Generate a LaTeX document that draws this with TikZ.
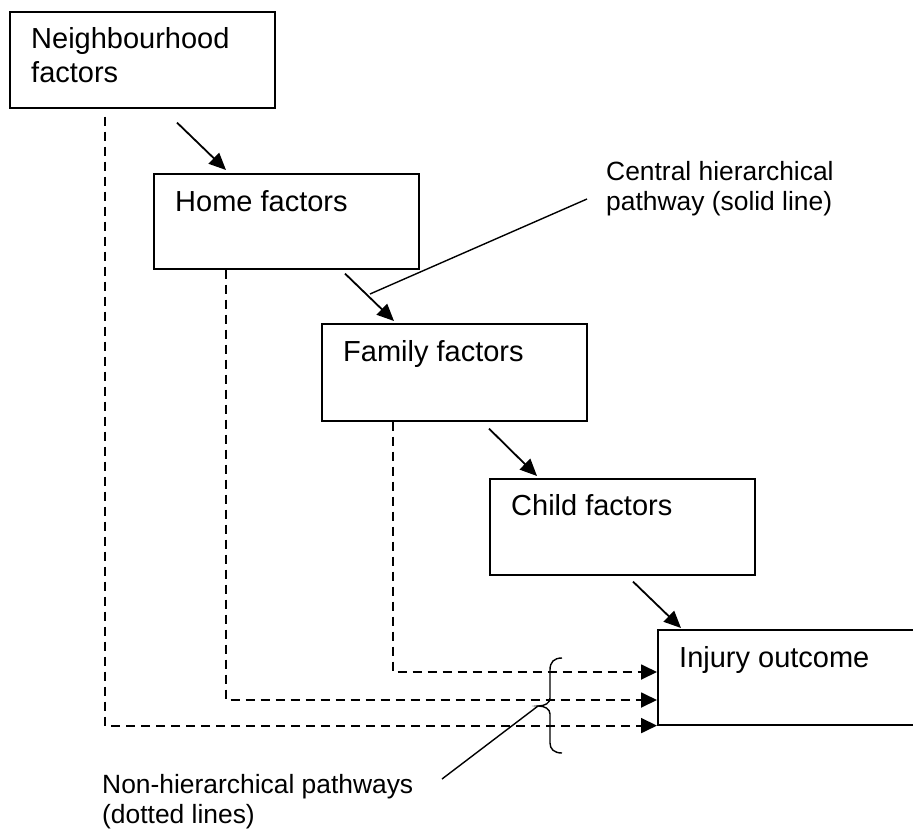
\documentclass[tikz,border=0pt]{standalone}
\usepackage{fontspec}
\setmainfont{Liberation Sans}
\usetikzlibrary{arrows.meta,calc}
\begin{document}
\begin{tikzpicture}[x=1pt,y=-1pt,
  box/.style={draw, line width=1.6pt, minimum width=265pt, anchor=north west, inner sep=0pt},
  boxtext/.style={anchor=base west, inner sep=0pt, align=left, font=\fontsize{29}{34}\selectfont},
  lbl/.style={anchor=base west, inner sep=0pt, align=left, font=\fontsize{26.4}{29.5}\selectfont},
  flow/.style={line width=1.8pt, -{Triangle[length=17pt,width=15pt]}},
  nonh/.style={line width=1.8pt, dash pattern=on 9pt off 6pt, -{Triangle[length=16pt,width=15pt]}},
  callout/.style={line width=1.4pt}]
\useasboundingbox (0,0) rectangle (913,830);
\clip (0,0) rectangle (913,830);

% boxes
\node[box, minimum height=96pt] (nb) at (9,11) {};
\node[box, minimum height=95pt] (home) at (153,173) {};
\node[box, minimum height=97pt] (family) at (321,323) {};
\node[box, minimum height=96pt] (child) at (489,478) {};
\node[box, minimum height=95pt, minimum width=300pt] (injury) at (657,629) {};

% box texts (base = baseline of last line)
\node[boxtext] (nbt) at (31,82) {Neighbourhood\\factors};
\node[boxtext] (homet) at (175,211) {Home factors};
\node[boxtext] (familyt) at (343,361) {Family factors};
\node[boxtext] (childt) at (511,515) {Child factors};
\node[boxtext] (injuryt) at (679,667) {Injury outcome};

% labels
\node[lbl] (central) at (606,210) {Central hierarchical\\pathway (solid line)};
\node[lbl] (nonhier) at (102,823) {Non-hierarchical pathways\\(dotted lines)};

% central hierarchical pathway
\coordinate (s1) at ($(nb.south west)+(168,14)$);
\coordinate (t1) at ($(home.north west)+(73,-3)$);
\coordinate (s2) at ($(home.south west)+(192,4)$);
\coordinate (t2) at ($(family.north west)+(73,-2)$);
\coordinate (s3) at ($(family.south west)+(168,7)$);
\coordinate (t3) at ($(child.north west)+(48,-2)$);
\coordinate (s4) at ($(child.south west)+(144,6)$);
\coordinate (t4) at ($(injury.north west)+(24,-1)$);
\draw[flow] (s1) -- (t1);
\draw[flow] (s2) -- (t2);
\draw[flow] (s3) -- (t3);
\draw[flow] (s4) -- (t4);

% non-hierarchical pathways
\draw[nonh] ($(nb.south west)+(96,8)$) |- (injury.south west);
\draw[nonh] ($(home.south west)+(73,0)$) |- ($(injury.north west)+(0,71)$);
\draw[nonh] ($(family.south west)+(72,0)$) |- ($(injury.north west)+(0,43)$);

% callouts
\coordinate (c1a) at (370,294);
\coordinate (c1b) at (587,199);
\draw[callout] (c1a) -- (c1b);

\coordinate (cusp) at (538,706);
\coordinate (c2b) at (442,779);
\draw[callout] (cusp) -- (c2b);

% brace
\draw[callout] (562,658) .. controls (554,658) and (550,662) .. (550,670)
  -- (550,698) .. controls (550,703) and (545,706) .. (cusp)
  .. controls (545,706) and (550,709) .. (550,714)
  -- (550,743) .. controls (550,749) and (554,753) .. (562,753);
\end{tikzpicture}
\end{document}
